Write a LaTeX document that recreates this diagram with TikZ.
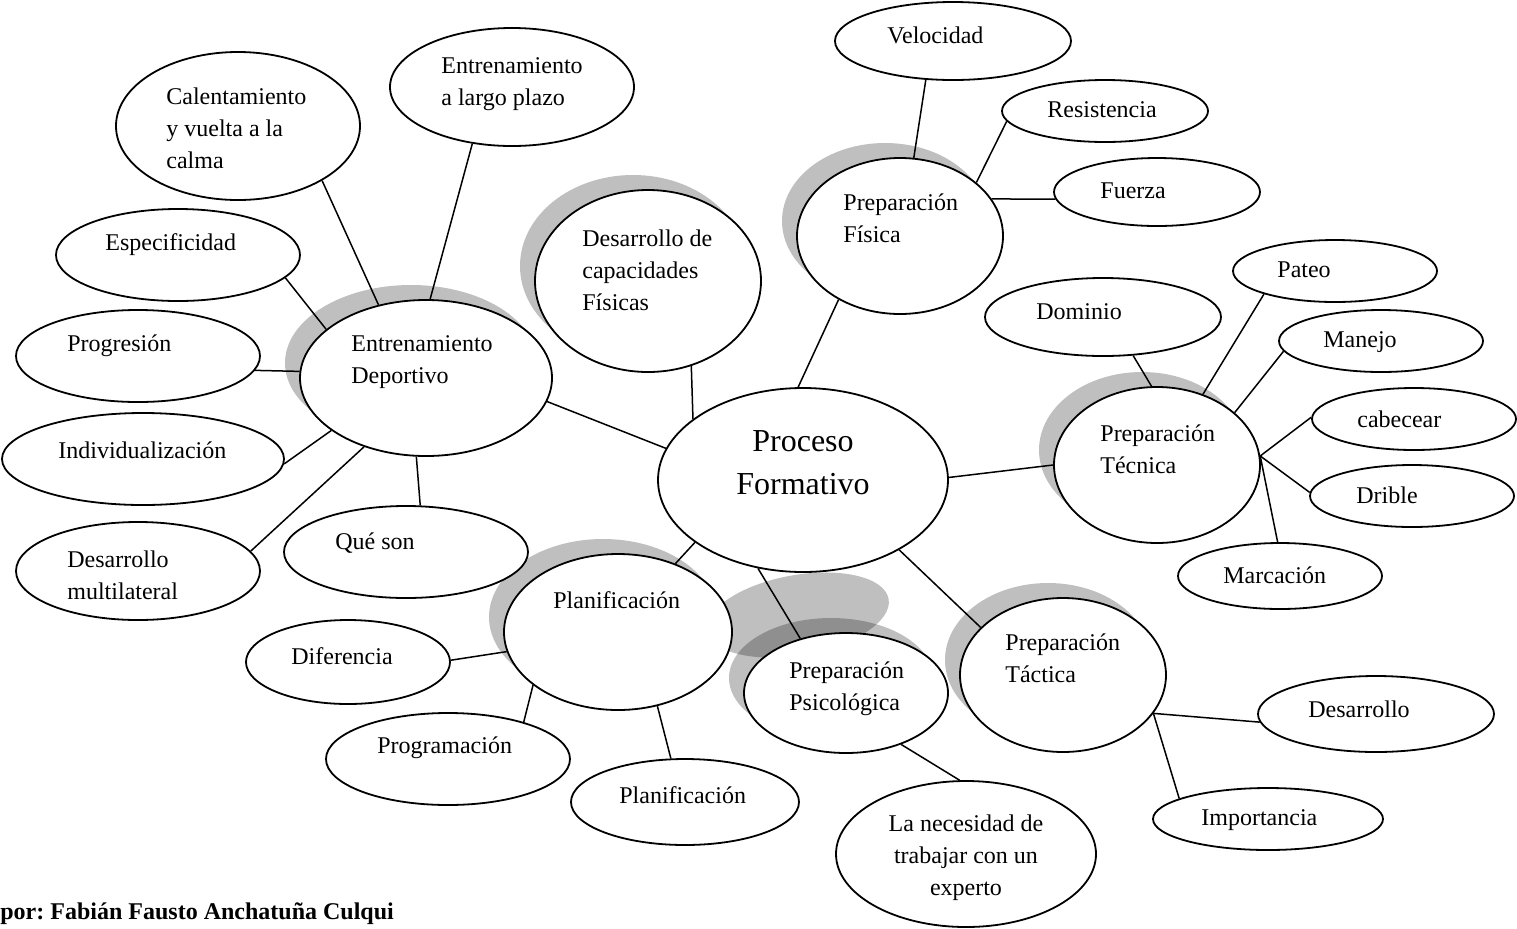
\documentclass[tikz,border=0pt]{standalone}
\usepackage{fontspec}
\setmainfont{Liberation Serif}
\frenchspacing
\usetikzlibrary{shapes.geometric,shadows}
\tikzset{
        bubble/.style={ellipse, draw, line width=0.9pt, fill=white, inner sep=0pt},
        hub/.style={bubble, drop shadow={shadow xshift=-7.5pt, shadow yshift=7.5pt, fill=black, opacity=0.25}},
        txt/.style={anchor=west, align=left, inner sep=0pt, font=\fontsize{12}{16}\selectfont},
        link/.style={line width=0.75pt},
}
\begin{document}
\begin{tikzpicture}[x=0.5pt, y=-0.5pt]
        \useasboundingbox (0, 0) rectangle (1517, 928);
        % grey blob under Planificacion and Psicologica
        \fill [black, opacity=0.25, rotate around={10:(798, 615)}] (798, 615) ellipse [x radius=92, y radius=40];
        % centre and hubs
        \node [bubble, minimum width=145pt, minimum height=92pt] (proceso) at (803, 480) {};
        \node [hub, minimum width=126pt, minimum height=78pt] (entdep) at (426, 378) {};
        \node [hub, minimum width=113pt, minimum height=91pt] (capac) at (648, 281) {};
        \node [hub, minimum width=103pt, minimum height=78pt] (fisica) at (900, 236) {};
        \node [hub, minimum width=103pt, minimum height=78pt] (tecnica) at (1157, 465) {};
        \node [hub, minimum width=103pt, minimum height=77pt] (tactica) at (1063, 675) {};
        \node [hub, minimum width=102pt, minimum height=60pt] (psico) at (846, 693) {};
        \node [hub, minimum width=114pt, minimum height=78pt] (plan) at (618, 632) {};
        % leaves
        \foreach \name/\x/\y/\w/\h in {calent/238/126/122/74, largo/512/87/122/59, especif/178/255/122/46,
                progres/138/356/122/46, individ/143/459/141/46, multilat/138/571/122/49, queson/406/552/122/46,
                veloc/953/41/118/39, resist/1105/111/103/31, fuerza/1157/192/103/34, dominio/1103/317/118/39,
                pateo/1335/271/102/31, manejo/1381/341/102/31, cabecear/1414/419/102/31, drible/1412/496/102/31,
                marcacion/1280/576/102/33, desarr/1376/714/118/38, import/1268/819/115/31, necesidad/966/854/130/73,
                difer/348/662/102/42, program/448/759/122/46, planif/685/802/114/43}{
                \node [bubble, minimum width=\w pt, minimum height=\h pt] (\name) at (\x, \y) {};
            }
        % texts
        \node [txt, anchor=center, align=center, font=\fontsize{16}{21.5}\selectfont] (proceso-t) at (803, 463) {Proceso\\Formativo};
        \node [txt] (entdep-t) at (351, 362) {Entrenamiento\\Deportivo};
        \node [txt] (capac-t) at (582, 270) {Desarrollo de\\capacidades\\Físicas};
        \node [txt] (fisica-t) at (843, 218) {Preparación\\Física};
        \node [txt] (tecnica-t) at (1100, 449) {Preparación\\Técnica};
        \node [txt] (tactica-t) at (1005, 658) {Preparación\\Táctica};
        \node [txt] (psico-t) at (789, 689) {Preparación\\Psicológica};
        \node [txt] (plan-t) at (553, 600) {Planificación};
        \node [txt] (calent-t) at (166, 128) {Calentamiento\\y vuelta a la\\calma};
        \node [txt] (largo-t) at (441, 84) {Entrenamiento\\a largo plazo};
        \node [txt] (especif-t) at (105, 245) {Especificidad};
        \node [txt] (progres-t) at (67, 346) {Progresión};
        \node [txt] (individ-t) at (58, 450) {Individualización};
        \node [txt] (multilat-t) at (67, 575) {Desarrollo\\multilateral};
        \node [txt] (queson-t) at (335, 543) {Qué son};
        \node [txt] (veloc-t) at (887, 35) {Velocidad};
        \node [txt] (resist-t) at (1047, 110) {Resistencia};
        \node [txt] (fuerza-t) at (1100, 191) {Fuerza};
        \node [txt] (dominio-t) at (1036, 312) {Dominio};
        \node [txt] (pateo-t) at (1277, 270) {Pateo};
        \node [txt] (manejo-t) at (1323, 342) {Manejo};
        \node [txt] (cabecear-t) at (1357, 419) {cabecear};
        \node [txt] (drible-t) at (1356, 495) {Drible};
        \node [txt] (marcacion-t) at (1223, 575) {Marcación};
        \node [txt] (desarr-t) at (1308, 709) {Desarrollo};
        \node [txt] (import-t) at (1201, 820) {Importancia};
        \node [txt, anchor=center, align=center] (necesidad-t) at (966, 858) {La necesidad de\\trabajar con un\\experto};
        \node [txt] (difer-t) at (291, 656) {Diferencia};
        \node [txt] (program-t) at (377, 748) {Programación};
        \node [txt] (planif-t) at (619, 795) {Planificación};
        \node [anchor=base west, inner sep=0pt, font=\fontsize{12}{14}\selectfont\bfseries] (autor) at (0, 919) {por: Fabián Fausto Anchatuña Culqui};
        % connectors
        \draw [link] (calent.-33) -- (entdep.123);
        \draw [link] (largo.235) -- (entdep.87);
        \draw [link] (especif.-12) -- (entdep.154);
        \draw [link] (progres.-7) -- (entdep.177);
        \draw [link] (individ.-2) -- (entdep.209);
        \draw [link] (multilat.10) -- (entdep.228);
        \draw [link] (queson.73) -- (entdep.263);
        \draw [link] (entdep.-11) -- (proceso.167);
        \draw [link] (capac.-63) -- (proceso.151);
        \draw [link] (fisica.226) -- (proceso.93);
        \draw [link] (veloc.235) -- (fisica.80);
        \draw [link] (resist.186) -- (fisica.35);
        \draw [link] (fuerza.184) -- (fisica.22);
        \draw [link] (proceso.1) -- (tecnica.180);
        \draw [link] (dominio.-52) -- (tecnica.94);
        \draw [link] (pateo.198) -- (tecnica.57);
        \draw [link] (manejo.186) -- (tecnica.34);
        \draw [link] (cabecear.179) -- (tecnica.5);
        \draw [link] (drible.178) -- (tecnica.5);
        \draw [link] (marcacion.94) -- (tecnica.5);
        \draw [link] (proceso.-36) -- (tactica.150);
        \draw [link] (tactica.-23) -- (desarr.184);
        \draw [link] (tactica.-23) -- (import.167);
        \draw [link] (proceso.243) -- (psico.130);
        \draw [link] (psico.-43) -- (necesidad.95);
        \draw [link] (proceso.210) -- (plan.50);
        \draw [link] (plan.190) -- (difer.1);
        \draw [link] (plan.212) -- (program.26);
        \draw [link] (plan.-62) -- (planif.108);
    \end{tikzpicture}
\end{document}
